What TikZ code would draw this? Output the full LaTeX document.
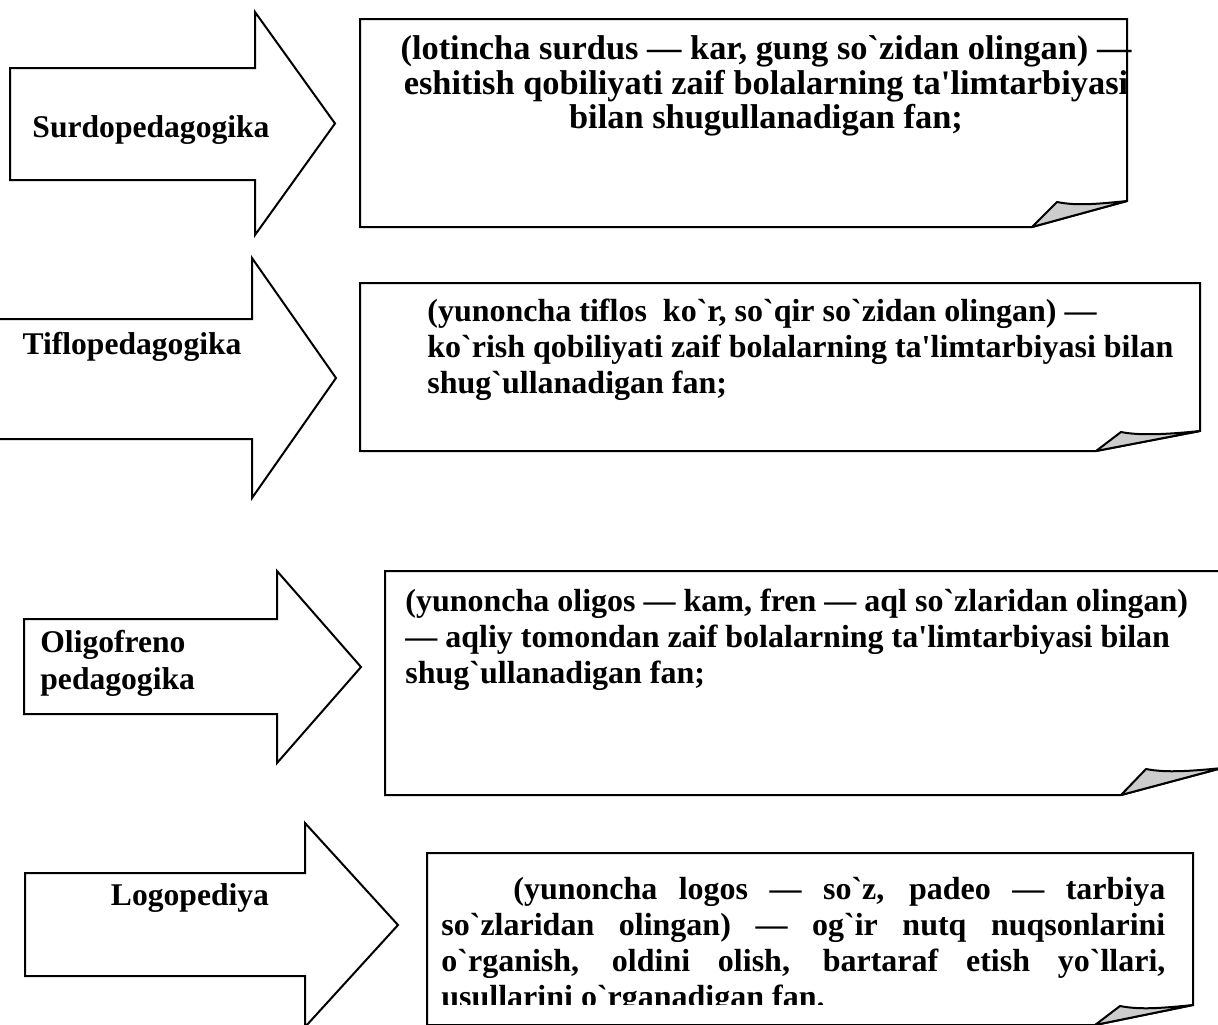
\documentclass[tikz,border=0pt]{standalone}
\usepackage{fontspec}
\setmainfont{Liberation Serif}[Ligatures=TeXOff]
\usetikzlibrary{calc}
\tikzstyle{shapeline}=[line width=1pt, line join=miter, fill=white]
\tikzstyle{flap}=[line width=1pt, line join=round, fill=gray!40]
\tikzstyle{txt}=[inner sep=0pt, font=\fontsize{15.8}{17.8}\selectfont\bfseries]
\tikzstyle{boxtxt}=[inner sep=0pt, font=\fontsize{16}{18}\selectfont\bfseries]

\begin{document}
\begin{tikzpicture}[x=0.5pt,y=-0.5pt]
\useasboundingbox (0,0) rectangle (1218,1024);
% block arrows: name/body left/head/tip/body top/body bottom/head top/head bottom
\foreach \n/\xa/\xb/\xc/\ya/\yb/\yc/\yd in {surdo/10/255/335/68/180/12/235, tiflo/-1/252/336/319/439/258/498, oligo/24/277/361/619/714/571/763, logo/25/305/398/873/976/823/1027} {
	\coordinate (\n-tip) at (\xc,{(\yc+\yd)/2});
	\draw[shapeline] (\xa,\ya) -- (\xb,\ya) -- (\xb,\yc) -- (\n-tip) -- (\xb,\yd) -- (\xb,\yb) -- (\xa,\yb) -- cycle;
}
% boxes with folded corner: name/left/top/right/bottom/fold width/fold height
\foreach \n/\l/\t/\r/\b/\w/\h in {surdo/360/19/1127/227/95/26, tiflo/360/283/1200/451/104/20, oligo/385/571/1222/795/101/27, logo/427/853/1193/1025/98/20} {
	\coordinate (\n-fold) at ({\r-\w},\b);
	\coordinate (\n-corner) at (\r,{\b-\h});
	\coordinate (\n-peak) at ({\r-\w+25},{\b-\h+1});
	\draw[shapeline] (\l,\t) -- (\r,\t) -- (\n-corner) -- (\n-fold) -- (\l,\b) -- cycle;
	\draw[flap] (\n-fold) -- (\n-peak) .. controls ({\r-\w+45},{\b-\h+5}) and ({\r-30},{\b-\h+3}) .. (\n-corner) -- cycle;
}
\node[txt] (surdo-name) at (151,130) {Surdopedagogika};
\node[txt] (tiflo-name) at (132,347) {Tiflopedagogika};
\node[txt,align=left,anchor=north west,font=\fontsize{15.8}{18.5}\selectfont\bfseries] (oligo-name) at (40,630) {Oligofreno\\pedagogika};
\node[txt] (logo-name) at (190,898) {Logopediya};

\node[boxtxt,align=center,font=\fontsize{17.2}{17.4}\selectfont\bfseries] (surdo-text) at (766,86) {(lotincha surdus — kar, gung so`zidan olingan) —\\eshitish qobiliyati zaif bolalarning ta'limtarbiyasi\\bilan shugullanadigan fan;};
\node[boxtxt,align=left,anchor=north west] (tiflo-text) at (427,299) {(yunoncha tiflos\ \ ko`r, so`qir so`zidan olingan) —\\ko`rish qobiliyati zaif bolalarning ta'limtarbiyasi bilan\\shug`ullanadigan fan;};
\node[boxtxt,align=left,anchor=north west] (oligo-text) at (405,589) {(yunoncha oligos — kam, fren — aql so`zlaridan olingan)\\— aqliy tomondan zaif bolalarning ta'limtarbiyasi bilan\\shug`ullanadigan fan;};
\begin{scope}
\clip (430,856) rectangle (1190,1004);
\node[boxtxt,anchor=north west,text width=362pt,align=justify] (logo-text) at (441,877) {\hspace*{36pt}(yunoncha logos — so`z, padeo — tarbiya\linebreak so`zlaridan olingan) — og`ir nutq nuqsonlarini\linebreak o`rganish, oldini olish, bartaraf etish yo`llari,\linebreak usullarini o`rganadigan fan.};
\end{scope}
\end{tikzpicture}
\end{document}
